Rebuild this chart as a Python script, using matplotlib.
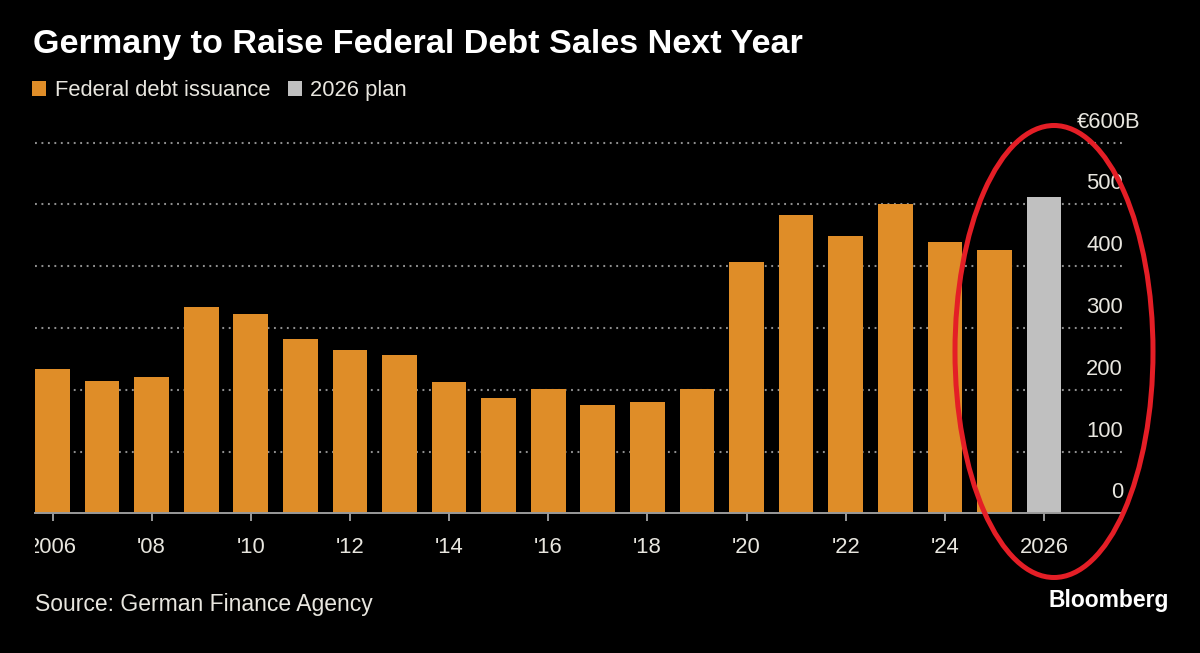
import matplotlib
matplotlib.use("Agg")
import matplotlib.pyplot as plt
import matplotlib.transforms as mtransforms
from matplotlib.patches import Patch, Ellipse

# 数据（单位：十亿欧元）
years = list(range(2006, 2026))
issuance = [234, 215, 220, 334, 323, 283, 264, 257, 212, 186,
            201, 175, 180, 202, 407, 483, 449, 501, 440, 426]
plan_years = [2026]
plan_values = [512]

xtick_years = [2006, 2008, 2010, 2012, 2014, 2016, 2018, 2020, 2022, 2024, 2026]
xtick_labels = ["2006", "'08", "'10", "'12", "'14", "'16", "'18", "'20", "'22", "'24", "2026"]
ytick_values = [0, 100, 200, 300, 400, 500, 600]
ytick_labels = ["0", "100", "200", "300", "400", "500", "€600B"]
legend_labels = ["Federal debt issuance", "2026 plan"]

title = "Germany to Raise Federal Debt Sales Next Year"
source = "Source: German Finance Agency"

ORANGE = "#DF8D28"
GRAY = "#C0C0C0"
TXT = "#E8E6DF"
AXIS = "#9A9A9A"

plt.rcParams['font.family'] = ['Liberation Sans', 'DejaVu Sans']

W, H = 1200, 653
fig = plt.figure(figsize=(W / 100, H / 100), dpi=100, facecolor="black")
ax = fig.add_axes([35 / W, (H - 513.3) / H, (1120 - 35) / W, (513.3 - 142.7) / H])
ax.set_facecolor("black")

ax.bar(years, issuance, width=0.7, color=ORANGE, zorder=2)
ax.bar(plan_years, plan_values, width=0.7, color=GRAY, zorder=2)

ax.set_xlim(2005.647, 2027.533)
ax.set_ylim(0, 600)

# 网格线（点状），略超出右端
for v in ytick_values[1:]:
    ax.axhline(v, xmin=0, xmax=1.005, color="#8E8E8E", lw=1.5,
               ls=(0, (0.9, 2.2)), zorder=1, clip_on=False)

for s in ["top", "left", "right"]:
    ax.spines[s].set_visible(False)
ax.spines["bottom"].set_color(AXIS)
ax.spines["bottom"].set_linewidth(1.4)
ax.spines["bottom"].set_zorder(3)

# x 轴
ax.set_xticks(xtick_years, xtick_labels)
ax.tick_params(axis="x", length=5.8, width=1.4, color=AXIS, pad=11.5,
               labelsize=15.8, labelcolor=TXT)
# 第一个标签左侧被裁切
clip = mtransforms.TransformedBbox(mtransforms.Bbox([[35 / W, 0], [1, 1]]), fig.transFigure)
first = ax.get_xticklabels()[0]
first.set_clip_box(clip)
first.set_clip_on(True)

# y 轴（右侧，标签位于网格线上方）
ax.yaxis.tick_right()
ax.set_yticks(ytick_values, ytick_labels, ha="right")
ax.tick_params(axis="y", length=0, pad=2.2, labelsize=15.8, labelcolor=TXT)
for lbl in ax.get_yticklabels():
    dx = 17 / 100 if lbl.get_text().startswith("€") else 0
    lbl.set_transform(lbl.get_transform() +
                      mtransforms.ScaledTranslation(dx, 23 / 100, fig.dpi_scale_trans))

# 标题、图例、来源
fig.text(33 / W, (H - 53) / H, title, fontsize=24.6, fontweight="bold",
         color="white", va="baseline")

handles = [Patch(facecolor=ORANGE), Patch(facecolor=GRAY)]
fig.legend(handles, legend_labels, loc="upper left",
           bbox_to_anchor=(32 / W, (H - 80) / H), ncol=2, frameon=False,
           fontsize=15.8, labelcolor=TXT, handlelength=0.65, handleheight=0.72,
           handletextpad=0.38, columnspacing=0.8, borderpad=0, borderaxespad=0)

fig.text(35 / W, (H - 611) / H, source, fontsize=16.5, color=TXT, va="baseline")
fig.text(1169 / W, (H - 607) / H, "Bloomberg", fontsize=16.5, fontweight="bold",
         color="white", ha="right", va="baseline")

# 红色椭圆标注
fig.patches.append(Ellipse((1054 / W, (H - 351.5) / H), 198 / W, 452 / H,
                           transform=fig.transFigure, fill=False,
                           edgecolor="#E41E26", lw=3.6, zorder=10))

fig.savefig("out.png", dpi=100, facecolor="black")
